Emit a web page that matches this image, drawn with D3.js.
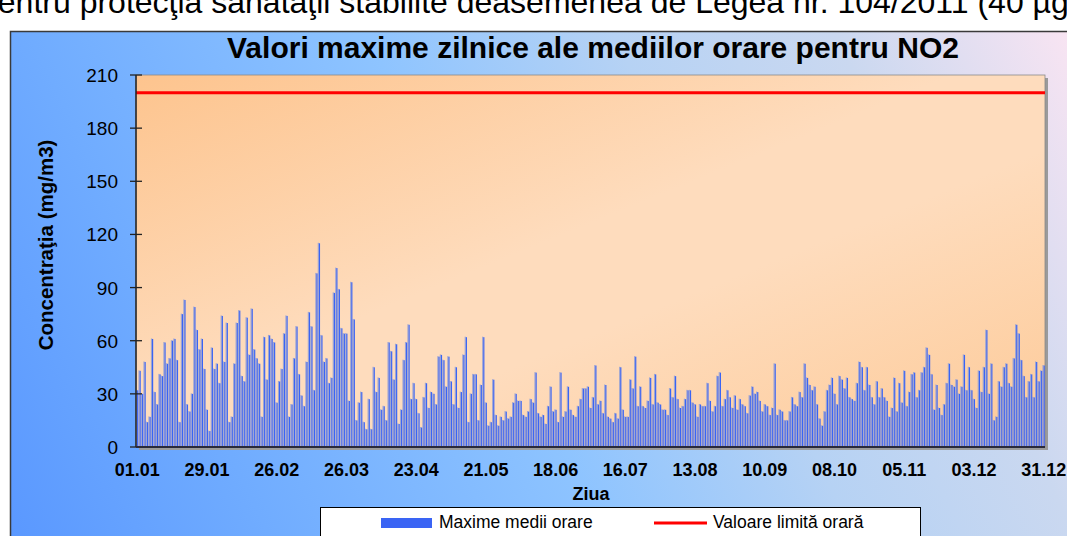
<!DOCTYPE html>
<html>
<head>
  <meta charset="utf-8">
  <title>Valori maxime zilnice NO2</title>
  <script src="https://d3js.org/d3.v7.min.js"></script>
  <style>
    body { margin: 0; background: #fff; overflow: hidden; }
    svg text { font-family: "Liberation Sans", Arial, sans-serif; }
  </style>
</head>
<body>
  <div id="chart"></div>
  <script>
    // daily maximum of hourly averages, 01.01 - 31.12 (365 days)
    const maxHourly = [
      32, 43, 30, 48, 14, 17, 61, 31, 24, 41, 40, 59, 47, 50, 60, 61, 49, 14, 75, 83,
      24, 20, 30, 79, 66, 55, 61, 44, 21, 9, 56, 44, 47, 36, 74, 48, 70, 14, 17, 47,
      70, 77, 40, 37, 73, 52, 78, 55, 50, 47, 17, 62, 38, 63, 61, 59, 25, 37, 44,
      64, 74, 17, 24, 50, 68, 41, 29, 23, 48, 76, 68, 32, 98, 115, 63, 48, 50, 36, 39,
      87, 101, 89, 67, 64, 64, 26, 93, 72, 15, 25, 31, 14, 10, 27, 10, 45, 31, 39, 21,
      23, 15, 59, 54, 38, 58, 13, 21, 49, 59, 69, 27, 36, 27, 19, 11, 28, 36, 22, 31,
      30, 24, 51, 52, 49, 34, 51, 37, 24, 45, 22, 31, 52, 62, 14, 30, 41, 41, 15, 35,
      62, 25, 12, 14, 38, 18, 12, 17, 15, 20, 16, 17, 25, 30, 26, 26, 18, 17, 20, 27,
      25, 42, 19, 17, 18, 13, 23, 34, 20, 21, 14, 42, 17, 20, 34, 21, 18, 17, 23, 27,
      33, 33, 34, 22, 28, 46, 24, 26, 19, 35, 17, 16, 14, 19, 16, 45, 21, 17, 17, 38,
      33, 51, 23, 34, 23, 22, 26, 39, 24, 41, 25, 24, 21, 21, 18, 33, 28, 40, 27, 22,
      23, 27, 32, 32, 25, 24, 17, 24, 23, 23, 36, 26, 20, 23, 40, 42, 23, 27, 32, 28, 22,
      29, 21, 27, 24, 23, 19, 29, 34, 30, 31, 26, 20, 24, 23, 18, 22, 47, 18, 21, 20,
      15, 15, 20, 28, 24, 23, 31, 28, 47, 39, 35, 32, 34, 24, 16, 12, 20, 32, 35, 39,
      30, 24, 40, 38, 33, 39, 28, 27, 26, 36, 48, 45, 32, 45, 35, 28, 24, 37, 28, 33,
      28, 26, 17, 22, 39, 20, 36, 25, 43, 23, 31, 41, 42, 28, 32, 42, 45, 56, 52, 41,
      21, 35, 22, 18, 24, 36, 47, 35, 34, 38, 30, 34, 52, 32, 45, 32, 27, 22, 43, 31,
      45, 66, 30, 47, 15, 17, 37, 34, 45, 47, 36, 34, 50, 69, 64, 49, 40, 28, 37, 41,
      28, 48, 37, 43, 46
    ];
    const limitValue = 200;
    const yTicks = [0, 30, 60, 90, 120, 150, 180, 210];
    const xTickLabels = ["01.01", "29.01", "26.02", "26.03", "23.04", "21.05", "18.06",
      "16.07", "13.08", "10.09", "08.10", "05.11", "03.12", "31.12"];

    const fmt = d3.timeFormat("%d.%m");
    const days = d3.timeDay.range(new Date(2011, 0, 1), new Date(2012, 0, 1)).map(fmt);
    const data = days.map((d, i) => ({ day: d, value: maxHourly[i] }));

    const width = 1067, height = 536;
    const plot = { left: 136, right: 1045, top: 75, bottom: 447 };

    const svg = d3.select("#chart").append("svg")
      .attr("width", width).attr("height", height);

    const defs = svg.append("defs");
    const outerGrad = defs.append("linearGradient").attr("id", "outerBg")
      .attr("gradientUnits", "userSpaceOnUse")
      .attr("x1", 10).attr("y1", 536).attr("x2", 1067).attr("y2", 31);
    [[0, "#5a98ff"], [0.2, "#70acff"], [0.46, "#8ec4ff"], [0.65, "#b6d2f4"],
     [0.82, "#cad8f0"], [1, "#f8e4f2"]].forEach(s =>
      outerGrad.append("stop").attr("offset", s[0]).attr("stop-color", s[1]));

    const plotGrad = defs.append("linearGradient").attr("id", "plotBg")
      .attr("x1", 0).attr("y1", 0).attr("x2", 1).attr("y2", 1);
    [[0, "#fdc48e"], [0.45, "#fedcbd"], [0.6, "#fedcbd"], [1, "#fdca98"]].forEach(s =>
      plotGrad.append("stop").attr("offset", s[0]).attr("stop-color", s[1]));

    // text of the document behind the chart
    svg.append("text")
      .attr("x", -20).attr("y", 13)
      .attr("font-size", 32)
      .attr("fill", "#000")
      .text("pentru protecţia sănătăţii stabilite deasemenea de Legea nr. 104/2011 (40 µg/m3)");

    // chart area
    svg.append("rect")
      .attr("x", 10.5).attr("y", 31.5)
      .attr("width", 1070).attr("height", 520)
      .attr("fill", "url(#outerBg)")
      .attr("stroke", "#3a3a3a").attr("stroke-width", 1.5);

    const x = d3.scaleBand().domain(days).range([plot.left, plot.right]).padding(0);
    const y = d3.scaleLinear().domain([0, 210]).range([plot.bottom, plot.top]);

    // plot area with shadow on right
    svg.append("rect")
      .attr("x", plot.left + 3).attr("y", plot.top + 3)
      .attr("width", plot.right - plot.left).attr("height", plot.bottom - plot.top)
      .attr("fill", "#9a9a9a");
    svg.append("rect")
      .attr("x", plot.left).attr("y", plot.top)
      .attr("width", plot.right - plot.left).attr("height", plot.bottom - plot.top)
      .attr("fill", "url(#plotBg)")
      .attr("stroke", "#8a8a8a").attr("stroke-width", 0.8);

    // title
    svg.append("text")
      .attr("x", 593).attr("y", 58)
      .attr("text-anchor", "middle")
      .attr("font-size", 30).attr("font-weight", "bold")
      .text("Valori maxime zilnice ale mediilor orare pentru NO2");

    // bars
    const mid = d => x(d.day) + x.bandwidth() / 2;
    svg.append("g").selectAll("rect")
      .data(data).join("rect")
      .attr("x", d => mid(d) - 1.3)
      .attr("y", d => y(d.value) - 0.5)
      .attr("width", 1.1)
      .attr("height", d => y(0) - y(d.value) + 0.5)
      .attr("fill", "#9ea6d2");
    svg.append("g").selectAll("rect")
      .data(data).join("rect")
      .attr("x", d => mid(d) - 0.2)
      .attr("y", d => y(d.value))
      .attr("width", 1.2)
      .attr("height", d => y(0) - y(d.value))
      .attr("fill", "#3a64f4");

    // limit line
    svg.append("line")
      .attr("x1", plot.left).attr("x2", plot.right)
      .attr("y1", y(limitValue)).attr("y2", y(limitValue))
      .attr("stroke", "#ff0000").attr("stroke-width", 3);

    // y axis
    const yAxis = svg.append("g");
    yAxis.append("line")
      .attr("x1", plot.left).attr("x2", plot.left)
      .attr("y1", plot.top).attr("y2", plot.bottom)
      .attr("stroke", "#222").attr("stroke-width", 1.5);
    yAxis.selectAll(".tick").data(yTicks).join("line")
      .attr("x1", plot.left - 6).attr("x2", plot.left + 6)
      .attr("y1", d => y(d)).attr("y2", d => y(d))
      .attr("stroke", "#222").attr("stroke-width", 1.3);
    yAxis.selectAll("text").data(yTicks).join("text")
      .attr("x", plot.left - 18).attr("y", d => y(d) + 7)
      .attr("text-anchor", "end")
      .attr("font-size", 19)
      .text(d => d);

    // x axis
    svg.append("line")
      .attr("x1", plot.left).attr("x2", plot.right)
      .attr("y1", plot.bottom).attr("y2", plot.bottom)
      .attr("stroke", "#2a2a3a").attr("stroke-width", 2);
    svg.append("g").selectAll("text")
      .data(xTickLabels).join("text")
      .attr("x", d => x(d) + x.bandwidth() / 2)
      .attr("y", 476)
      .attr("text-anchor", "middle")
      .attr("font-size", 18).attr("font-weight", "bold")
      .text(d => d);

    // axis titles
    svg.append("text")
      .attr("x", 591).attr("y", 500)
      .attr("text-anchor", "middle")
      .attr("font-size", 18).attr("font-weight", "bold")
      .text("Ziua");
    svg.append("text")
      .attr("transform", "translate(53,245) rotate(-90)")
      .attr("text-anchor", "middle")
      .attr("font-size", 20.5).attr("font-weight", "bold")
      .text("Concentraţia (mg/m3)");

    // legend
    const legend = svg.append("g");
    legend.append("rect")
      .attr("x", 320.5).attr("y", 507.5)
      .attr("width", 600).attr("height", 40)
      .attr("fill", "#fff").attr("stroke", "#000").attr("stroke-width", 1);
    legend.append("rect")
      .attr("x", 381).attr("y", 518)
      .attr("width", 51).attr("height", 10)
      .attr("fill", "#3a64f4");
    legend.append("text")
      .attr("x", 439).attr("y", 528)
      .attr("font-size", 17.5)
      .text("Maxime medii orare");
    legend.append("line")
      .attr("x1", 654).attr("x2", 707)
      .attr("y1", 523).attr("y2", 523)
      .attr("stroke", "#ff0000").attr("stroke-width", 3);
    legend.append("text")
      .attr("x", 713).attr("y", 528)
      .attr("font-size", 17.5)
      .text("Valoare limită orară");
  </script>
</body>
</html>
